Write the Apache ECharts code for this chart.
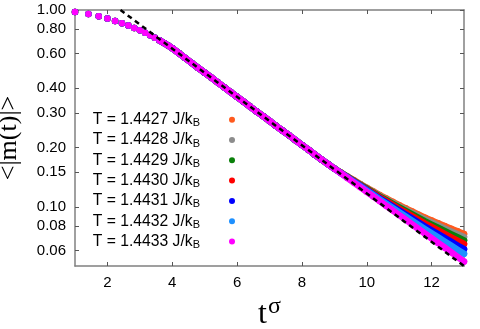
<!DOCTYPE html>
<html>
<head>
<meta charset="utf-8">
<script src="https://cdn.jsdelivr.net/npm/echarts@6/dist/echarts.min.js"></script>
<style>
  html, body { margin: 0; padding: 0; background: #fff; }
  #chart { width: 480px; height: 329px; }
</style>
</head>
<body>
<div id="chart"></div>
<script>
// data (x = t^sigma, y = <|m(t)|>)
const earlyX = [1, 1.414, 1.732, 2, 2.236, 2.449, 2.646, 2.828, 3, 3.162, 3.317, 3.464, 3.606, 3.742, 3.873]
const earlyY = [0.977, 0.954, 0.929, 0.906, 0.880, 0.856, 0.834, 0.811, 0.789, 0.767, 0.745, 0.723, 0.701, 0.680, 0.660]
const midX = [4.0, 4.2, 4.4, 4.6, 4.8, 5.0, 5.2, 5.4, 5.6, 5.8, 6.0, 6.2, 6.4, 6.6, 6.8, 7.0, 7.2, 7.4, 7.6, 7.8, 8.0, 8.2, 8.4, 8.6, 8.8]
const midY = [0.640, 0.604, 0.570, 0.538, 0.508, 0.480, 0.454, 0.429, 0.405, 0.383, 0.362, 0.342, 0.323, 0.305, 0.289, 0.273, 0.258, 0.244, 0.231, 0.218, 0.206, 0.195, 0.184, 0.174, 0.165]
const tailX = [9.0, 9.2, 9.4, 9.6, 9.8, 10.0, 10.2, 10.4, 10.6, 10.8, 11.0, 11.2, 11.4, 11.6, 11.8, 12.0, 12.2, 12.4, 12.6, 12.8, 13.0]
const tail27 = [0.1563, 0.1493, 0.1426, 0.1365, 0.1306, 0.1250, 0.1197, 0.1146, 0.1102, 0.1059, 0.1019, 0.0982, 0.0946, 0.0912, 0.0879, 0.0851, 0.0824, 0.0798, 0.0773, 0.0750, 0.0727]
const tail28 = [0.1563, 0.1492, 0.1423, 0.1360, 0.1300, 0.1243, 0.1189, 0.1137, 0.1091, 0.1047, 0.1006, 0.0968, 0.0931, 0.0895, 0.0861, 0.0832, 0.0804, 0.0776, 0.0750, 0.0726, 0.0702]
const tail29 = [0.1563, 0.1490, 0.1420, 0.1356, 0.1295, 0.1237, 0.1181, 0.1128, 0.1080, 0.1035, 0.0992, 0.0953, 0.0914, 0.0878, 0.0842, 0.0811, 0.0782, 0.0753, 0.0726, 0.0700, 0.0675]
const tail30 = [0.1563, 0.1488, 0.1417, 0.1351, 0.1288, 0.1229, 0.1172, 0.1117, 0.1069, 0.1022, 0.0977, 0.0936, 0.0896, 0.0859, 0.0822, 0.0790, 0.0759, 0.0729, 0.0700, 0.0673, 0.0647]
const tail31 = [0.1563, 0.1486, 0.1413, 0.1344, 0.1279, 0.1218, 0.1159, 0.1103, 0.1051, 0.1003, 0.0956, 0.0913, 0.0871, 0.0832, 0.0794, 0.0760, 0.0727, 0.0695, 0.0665, 0.0636, 0.0609]
const tail32 = [0.1563, 0.1484, 0.1409, 0.1338, 0.1271, 0.1208, 0.1148, 0.1090, 0.1036, 0.0986, 0.0938, 0.0892, 0.0849, 0.0808, 0.0769, 0.0733, 0.0699, 0.0666, 0.0635, 0.0605, 0.0577]
const tail33 = [0.1563, 0.1481, 0.1402, 0.1328, 0.1258, 0.1191, 0.1128, 0.1069, 0.1012, 0.0959, 0.0908, 0.0860, 0.0814, 0.0771, 0.0730, 0.0692, 0.0655, 0.0621, 0.0588, 0.0557, 0.0527]
const temps = ['1.4427', '1.4428', '1.4429', '1.4430', '1.4431', '1.4432', '1.4433']
const colors = ['#ff5a1e', '#8c8c8c', '#0a800a', '#ff0000', '#0000ff', '#1e90ff', '#ff00ff']
const tails = [tail27, tail28, tail29, tail30, tail31, tail32, tail33]
const fitX = [2.403, 13]
const fitY = [1.0, 0.05]
const xTicks = [2, 4, 6, 8, 10, 12]
const yTicks = [0.06, 0.08, 0.10, 0.15, 0.20, 0.30, 0.40, 0.60, 0.80, 1.00]

// y axis is logarithmic: plot log10 of the values on a value axis
const lg = v => Math.log10(v)
const allX = earlyX.concat(midX, tailX)
const baseY = earlyY.concat(midY)
const denseFrom = earlyX.length - 3   // where the dots merge into a band

const font = 'Liberation Sans'
const axisCol = '#808080'

let series = []
temps.forEach((t, i) => {
  const ys = baseY.concat(tails[i])
  const pts = allX.map((x, k) => [x, lg(ys[k])])
  series.push({
    name: t,
    type: 'scatter',
    symbol: 'circle',
    symbolSize: 6.5,
    itemStyle: { color: colors[i], opacity: 1 },
    emphasis: { disabled: true },
    data: pts
  })
  // the dense part of the run reads as a solid band
  series.push({
    name: t + ' band',
    type: 'line',
    symbol: 'none',
    lineStyle: { color: colors[i], width: 6.5, cap: 'round', join: 'round' },
    emphasis: { disabled: true },
    data: pts.slice(denseFrom)
  })
})
series.push({
  name: 'fit',
  type: 'line',
  symbol: 'none',
  z: 5,
  lineStyle: { color: '#000', width: 2.5, type: [5, 4] },
  data: fitX.map((x, k) => [x, lg(fitY[k])])
})

const chart = echarts.init(document.getElementById('chart'))
chart.setOption({
  animation: false,
  grid: { left: 75, right: 16, top: 10, bottom: 63, outerBoundsMode: 'none', containLabel: false },
  legend: {
    orient: 'vertical',
    right: 240,
    top: 105.7,
    align: 'right',
    icon: 'circle',
    itemWidth: 6,
    itemHeight: 6,
    itemGap: 2.3,
    selectedMode: false,
    data: temps,
    formatter: t => `{a|T = ${t} J/k}{b|B}`,
    textStyle: {
      rich: {
        a: { fontFamily: font, fontSize: 15.7, lineHeight: 20, color: '#000' },
        b: { fontFamily: font, fontSize: 11, lineHeight: 13, padding: [7, 24, 0, 0], color: '#000' }
      }
    }
  },
  xAxis: [{
    type: 'value', min: 1, max: 13,
    name: '{t|t}{s|σ}',
    nameLocation: 'middle',
    nameGap: 25,
    nameTextStyle: {
      rich: {
        t: { fontFamily: 'Liberation Serif', fontSize: 32, color: '#000' },
        s: { fontFamily: 'Liberation Serif', fontSize: 24, color: '#000', padding: [0, 0, 15, 1] }
      }
    },
    axisLine: { onZero: false, lineStyle: { color: axisCol, width: 1.5 } },
    axisTick: { inside: true, length: 4, customValues: xTicks, lineStyle: { color: '#555' } },
    axisLabel: { customValues: xTicks, margin: 9, fontFamily: font, fontSize: 15, color: '#000' },
    splitLine: { show: false }
  }, {
    type: 'value', min: 1, max: 13, position: 'top',
    axisLine: { onZero: false, lineStyle: { color: axisCol, width: 1.5 } },
    axisTick: { inside: true, length: 4, customValues: xTicks, lineStyle: { color: '#555' } },
    axisLabel: { show: false },
    splitLine: { show: false }
  }],
  yAxis: [{
    type: 'value', min: lg(0.05), max: 0,
    name: '<|m(t)|>',
    nameLocation: 'middle',
    nameGap: 53,
    nameMoveOverlap: false,
    nameTextStyle: { fontFamily: 'Liberation Serif', fontSize: 26, color: '#000' },
    axisLine: { onZero: false, lineStyle: { color: axisCol, width: 1.5 } },
    axisTick: { inside: true, length: 4, customValues: yTicks.map(lg), lineStyle: { color: '#555' } },
    axisLabel: {
      customValues: yTicks.map(lg), margin: 9,
      fontFamily: font, fontSize: 15, color: '#000',
      formatter: v => Math.pow(10, v).toFixed(2)
    },
    splitLine: { show: false }
  }, {
    type: 'value', min: lg(0.05), max: 0, position: 'right',
    axisLine: { onZero: false, lineStyle: { color: axisCol, width: 1.5 } },
    axisTick: { inside: true, length: 4, customValues: yTicks.map(lg), lineStyle: { color: '#555' } },
    axisLabel: { show: false },
    splitLine: { show: false }
  }],
  series: series
})
</script>
</body>
</html>
